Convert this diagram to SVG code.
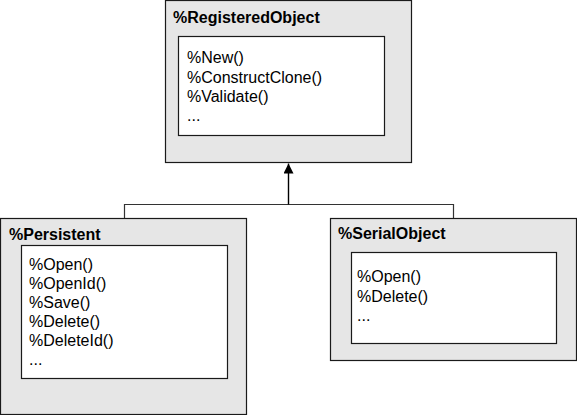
<svg xmlns="http://www.w3.org/2000/svg" width="577" height="415" viewBox="0 0 577 415">
  <defs>
    <marker id="arrow" markerWidth="10" markerHeight="10" refX="10" refY="5" orient="auto" markerUnits="userSpaceOnUse">
      <path d="M0,0 L10,5 L0,10 Z" fill="#000"/>
    </marker>
  </defs>
  <style>
    .outer { fill: #e6e6e6; stroke: #1a1a1a; stroke-width: 1.2; }
    .inner { fill: #ffffff; stroke: #1a1a1a; stroke-width: 1.2; }
    .title { font-family: "Liberation Sans", Arial, sans-serif; font-weight: bold; font-size: 16px; fill: #000; }
    .method { font-family: "Liberation Sans", Arial, sans-serif; font-size: 16px; fill: #000; }
    .conn { fill: none; stroke: #333; stroke-width: 1.2; }
  </style>
  <rect width="577" height="415" fill="#ffffff"/>

  <g id="connectors">
    <polyline class="conn" points="124.5,218 124.5,204.5 453.5,204.5 453.5,218"/>
    <line x1="288.5" y1="204.5" x2="288.5" y2="163.5" stroke="#000" stroke-width="1.4" marker-end="url(#arrow)"/>
  </g>

  <g id="registered-object">
    <rect class="outer" x="165.5" y="0.5" width="246" height="162"/>
    <text class="title" x="173" y="23">%RegisteredObject</text>
    <rect class="inner" x="178.5" y="36.5" width="206" height="99"/>
    <text class="method" x="187" y="63">%New()</text>
    <text class="method" x="187" y="82.5">%ConstructClone()</text>
    <text class="method" x="187" y="102">%Validate()</text>
    <text class="method" x="187" y="121">...</text>
  </g>

  <g id="persistent">
    <rect class="outer" x="0.5" y="218.5" width="246" height="196"/>
    <text class="title" x="9" y="240">%Persistent</text>
    <rect class="inner" x="21.5" y="245.5" width="206" height="133"/>
    <text class="method" x="29" y="270">%Open()</text>
    <text class="method" x="29" y="289">%OpenId()</text>
    <text class="method" x="29" y="308">%Save()</text>
    <text class="method" x="29" y="327">%Delete()</text>
    <text class="method" x="29" y="346">%DeleteId()</text>
    <text class="method" x="29" y="365">...</text>
  </g>

  <g id="serial-object">
    <rect class="outer" x="330.5" y="218.5" width="246" height="142"/>
    <text class="title" x="338" y="239">%SerialObject</text>
    <rect class="inner" x="351.5" y="252.5" width="205" height="91"/>
    <text class="method" x="357" y="282">%Open()</text>
    <text class="method" x="357" y="301.5">%Delete()</text>
    <text class="method" x="357" y="321">...</text>
  </g>
</svg>
